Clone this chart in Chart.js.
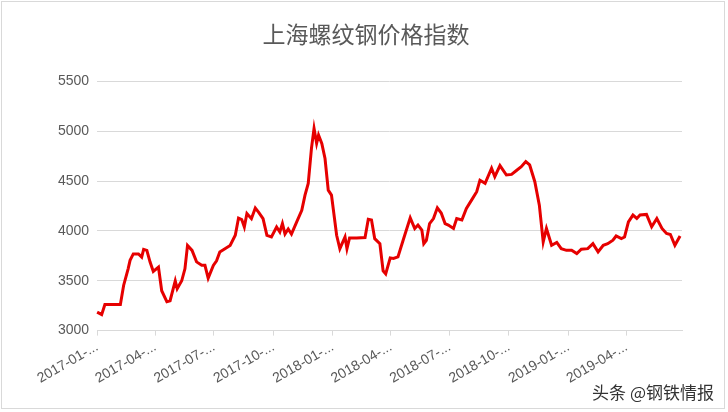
<!DOCTYPE html>
<html lang="zh">
<head>
<meta charset="UTF-8">
<title>上海螺纹钢价格指数</title>
<script src="https://cdn.jsdelivr.net/npm/chart.js"></script>
<style>
  body { margin: 0; background: #fff; }
  #wrap { position: relative; width: 728px; height: 412px; }
  #frame { position: absolute; left: 1px; top: 1px; width: 724px; height: 408px; border: 1px solid #d9d9d9; box-sizing: border-box; }
  #mark { position: absolute; right: 14px; bottom: 8px; font: 17px "Noto Sans CJK SC"; color: #333; }
</style>
</head>
<body>
<div id="wrap">
  <div id="frame"></div>
  <canvas id="c" width="728" height="412"></canvas>
  <div id="mark">头条 @钢铁情报</div>
</div>
<script>
  // days since 2017-01-01
  const days = [0,7,12,36,41,48,51,56,64,69,72,77,82,87,95,100,108,113,121,124,131,136,140,147,154,162,167,172,180,185,190,198,206,214,219,224,228,232,239,245,250,257,263,270,278,283,287,291,296,301,309,317,322,327,332,336,340,343,348,353,358,363,371,376,384,387,391,402,415,420,425,430,438,443,447,454,459,466,474,485,492,497,503,506,510,515,521,527,533,539,544,552,557,565,572,580,588,593,601,611,616,624,634,642,650,657,664,670,678,685,691,696,704,712,719,727,735,743,750,760,768,776,784,791,799,804,812,817,823,830,836,841,851,859,867,875,882,888,895,903];
  const index = [3185,3160,3262,3262,3453,3620,3705,3770,3770,3738,3815,3805,3688,3594,3638,3400,3290,3300,3500,3420,3500,3620,3855,3805,3690,3655,3655,3527,3655,3700,3790,3822,3855,3957,4130,4115,4040,4175,4124,4230,4190,4124,3957,3940,4040,3990,4074,3970,4020,3970,4090,4208,4360,4477,4830,5030,4880,4963,4880,4728,4410,4360,3957,3822,3940,3822,3930,3930,3935,4118,4110,3923,3872,3600,3570,3730,3725,3740,3907,4132,4025,4060,4010,3873,3907,4075,4125,4233,4180,4075,4060,4025,4125,4110,4226,4310,4395,4510,4478,4630,4545,4657,4562,4568,4610,4645,4697,4663,4495,4260,3890,4025,3857,3885,3823,3806,3806,3773,3817,3823,3873,3790,3857,3873,3907,3950,3924,3940,4092,4160,4126,4160,4166,4042,4126,4025,3975,3965,3857,3950];
  const tickDays = [0,90,181,273,365,455,546,638,730,820];
  const tickLabels = ['2017-01-...','2017-04-...','2017-07-...','2017-10-...','2018-01-...','2018-04-...','2018-07-...','2018-10-...','2019-01-...','2019-04-...'];

  new Chart(document.getElementById('c'), {
    type: 'line',
    data: {
      datasets: [{
        data: days.map((d, i) => ({ x: d, y: index[i] })),
        borderColor: '#e60000',
        borderWidth: 3,
        pointRadius: 0,
        tension: 0,
        clip: 4
      }]
    },
    options: {
      responsive: false,
      animation: false,
      layout: { padding: { left: 50, right: 46, top: 14, bottom: 22 } },
      plugins: {
        legend: { display: false },
        tooltip: { enabled: false },
        title: {
          display: true,
          text: '上海螺纹钢价格指数',
          color: '#595959',
          font: { family: 'Noto Sans CJK SC', size: 23, weight: 'normal' },
          padding: { top: 6, bottom: 34 }
        }
      },
      scales: {
        x: {
          type: 'linear',
          min: 0,
          max: 906,
          afterBuildTicks: ax => { ax.ticks = tickDays.map(v => ({ value: v })); },
          ticks: {
            callback: (v) => tickLabels[tickDays.indexOf(v)],
            maxRotation: 30, minRotation: 30,
            color: '#595959',
            font: { family: 'Liberation Sans', size: 14 }
          },
          grid: { drawOnChartArea: false, drawTicks: true, tickLength: 5, color: '#d9d9d9' },
          border: { color: '#d9d9d9' }
        },
        y: {
          min: 3000, max: 5500,
          ticks: { stepSize: 500, color: '#595959', font: { family: 'Liberation Sans', size: 14 }, padding: 8, callback: v => String(v) },
          grid: { color: '#d9d9d9', drawTicks: false },
          border: { display: false }
        }
      }
    }
  });
</script>
</body>
</html>
